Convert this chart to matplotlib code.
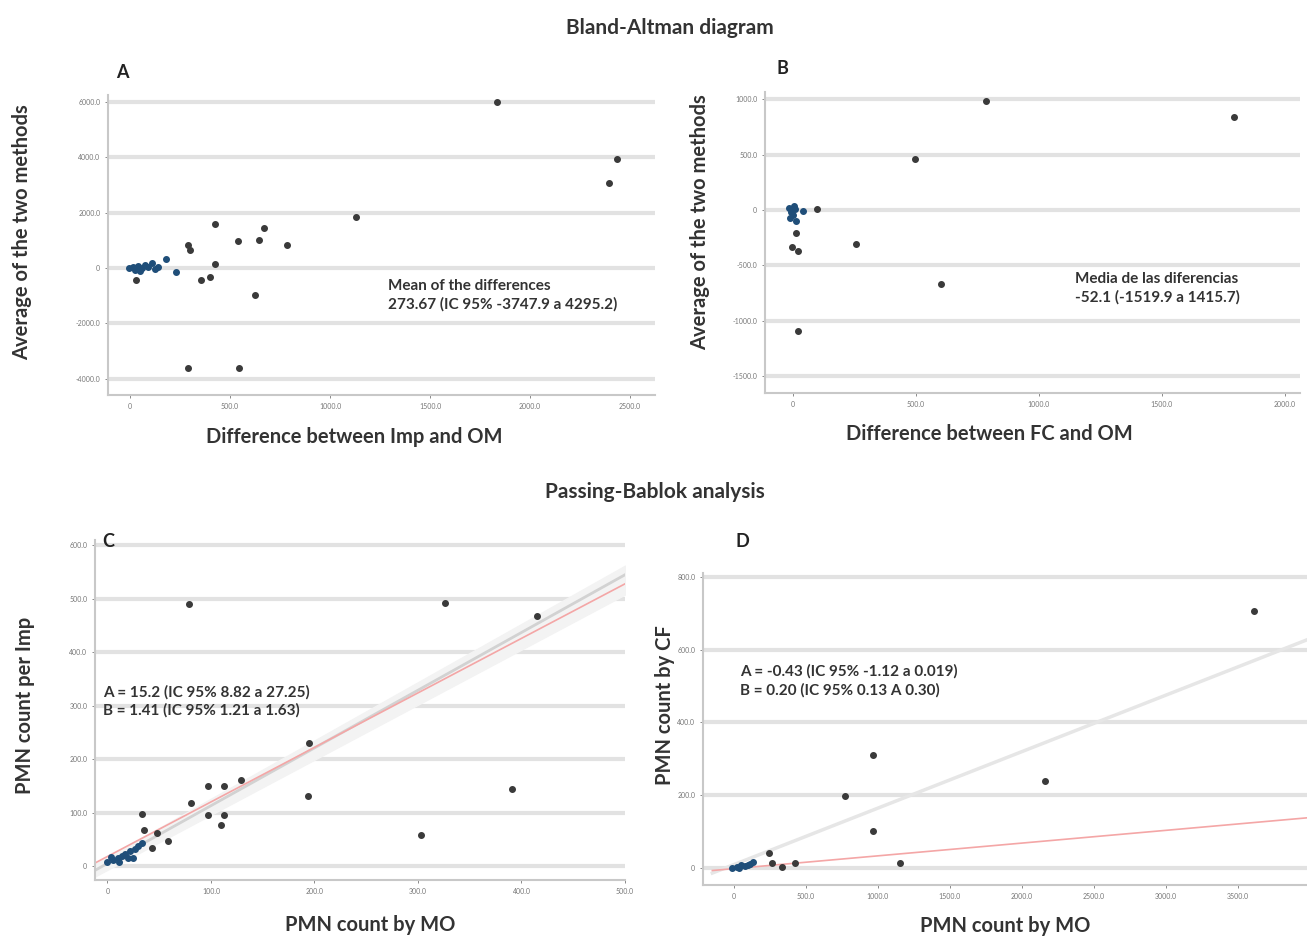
import numpy as np
import matplotlib
matplotlib.use("Agg")
import matplotlib.pyplot as plt

plt.rcParams['font.family'] = ['Lato', 'DejaVu Sans']

# ---- Panel A: Bland-Altman, Imp vs OM
a_x = [1835, 2433, 2395, 1130, 425, 670, 540, 645, 787, 290, 300, 425, 355, 400, 625, 290, 545, 30]
a_y = [6000, 3950, 3070, 1840, 1590, 1440, 970, 1010, 830, 830, 650, 144, -433, -325, -975, -3610, -3610, -433]
a_blue_x = [-5, 15, 40, 60, 75, 90, 110, 125, 140, 25, 50, 180, 230]
a_blue_y = [0, 36, 72, 0, 108, 36, 180, -36, 36, -72, -108, 325, -144]
a_yticks = [-4000, -2000, 0, 2000, 4000, 6000]
a_xticks = [0, 500, 1000, 1500, 2000, 2500]

# ---- Panel B: Bland-Altman, FC vs OM
b_x = [785, 1795, 497, 256, 602, 20, 98, 12, -4, 20]
b_y = [985, 840, 460, -307, -668, -1093, 9, -208, -334, -370]
b_blue_x = [-16, -8, 0, 8, -12, 12, 4, 40]
b_blue_y = [18, -18, -45, 9, -72, -99, 36, -9]
b_yticks = [-1500, -1000, -500, 0, 500, 1000]
b_xticks = [0, 500, 1000, 1500, 2000]

# ---- Panel C: Passing-Bablok, Imp vs MO
c_x = [79, 326, 415, 195, 194, 391, 303, 129, 113, 97, 81, 97, 113, 110, 33, 35, 48, 59, 43]
c_y = [490, 492, 468, 230, 131, 144, 58, 161, 150, 150, 118, 95, 95, 77, 97, 67, 62, 47, 34]
c_blue_x = [0, 5, 10, 14, 17, 22, 27, 30, 3, 11, 20, 33, 25]
c_blue_y = [7, 11, 15, 19, 22, 28, 32, 37, 17, 7, 15, 43, 15]
c_yticks = [0, 100, 200, 300, 400, 500, 600]
c_xticks = [0, 100, 200, 300, 400, 500]
c_fit = (18, 1.02)      # red regression line (intercept, slope)
c_ref = (5, 1.08)       # grey line
c_xline = [-35, 500]

# ---- Panel D: Passing-Bablok, CF vs MO
d_x = [3611, 965, 771, 2160, 965, 1153, 243, 264, 333, 424]
d_y = [705, 312, 198, 239, 103, 14, 43, 14, 3, 14]
d_blue_x = [-14, 20, 50, 80, 110, 132, 35, 95]
d_blue_y = [0, 4, 8, 6, 12, 16, 2, 10]
d_yticks = [0, 200, 400, 600, 800]
d_xticks = [0, 500, 1000, 1500, 2000, 2500, 3000, 3500]
d_fit = (-1, 0.035)
d_ref = (10, 0.155)
d_xline = [-150, 3979]

W, H = 1307, 938
fig = plt.figure(figsize=(W / 100, H / 100), dpi=100)


def px_axes(l, t, r, b):
    return fig.add_axes([l / W, 1 - b / H, (r - l) / W, (b - t) / H])


def fmt(v):
    return "0" if v == 0 else "%.1f" % v


def style(ax, xticks, yticks, xlim, ylim):
    ax.set_xlim(*xlim)
    ax.set_ylim(*ylim)
    ax.set_xticks(xticks)
    ax.set_yticks(yticks)
    ax.set_xticklabels([fmt(v) for v in xticks])
    ax.set_yticklabels([fmt(v) for v in yticks])
    ax.tick_params(labelsize=5, colors="#777777", length=2, width=0.6)
    for s in ["top", "right"]:
        ax.spines[s].set_visible(False)
    for s in ["left", "bottom"]:
        ax.spines[s].set_color("#c8c8c8")
        ax.spines[s].set_linewidth(1.5)
    ax.yaxis.grid(True, color="#e2e2e2", linewidth=3)
    ax.set_axisbelow(True)


def dots(ax, x, y, bx, by):
    ax.scatter(x, y, s=16, color="#3a3a3a", zorder=3)
    ax.scatter(bx, by, s=16, color="#1f4e79", zorder=3)


def labels(ax, xl, yl, xpos, ypos):
    ax.set_xlabel(xl, **lab)
    ax.set_ylabel(yl, **lab)
    ax.xaxis.set_label_coords(*xpos)
    ax.yaxis.set_label_coords(*ypos)
    ax.xaxis.label.set_va("center")
    ax.yaxis.label.set_va("center")


lab = dict(fontsize=14.5, fontweight="bold", color="#333333")
note = dict(fontsize=11, fontweight="bold", color="#333333", linespacing=1.35)

# A
axA = px_axes(108, 95, 655, 395)
style(axA, a_xticks, a_yticks, (-110, 2625), (-4585, 6245))
dots(axA, a_x, a_y, a_blue_x, a_blue_y)
labels(axA, "Difference between Imp and OM", "Average of the two methods",
       (0.45, -0.14), (-0.157, 0.543))
axA.text(0.512, 0.333, "Mean of the differences\n273.67 (IC 95% -3747.9 a 4295.2)",
         transform=axA.transAxes, va="center", **note)

# B
axB = px_axes(765, 92, 1300, 393)
style(axB, b_xticks, b_yticks, (-114, 2063), (-1652, 1065))
dots(axB, b_x, b_y, b_blue_x, b_blue_y)
labels(axB, "Difference between FC and OM", "Average of the two methods",
       (0.42, -0.136), (-0.121, 0.568))
axB.text(0.579, 0.349, "Media de las diferencias\n-52.1 (-1519.9 a 1415.7)",
         transform=axB.transAxes, va="center", **note)

# C
axC = px_axes(95, 540, 625, 880)
style(axC, c_xticks, c_yticks, (-12, 500), (-26, 610))
xl = np.array(c_xline)
axC.fill_between(xl, c_ref[0] - 12 + (c_ref[1] - 0.05) * xl, c_ref[0] + 12 + (c_ref[1] + 0.01) * xl,
                 color="#f3f3f3", zorder=1)
axC.plot(xl, c_ref[0] + c_ref[1] * xl, color="#d2d2d2", linewidth=2, zorder=2)
axC.plot(xl, c_fit[0] + c_fit[1] * xl, color="#f4a6a6", linewidth=1.2, zorder=2)
dots(axC, c_x, c_y, c_blue_x, c_blue_y)
labels(axC, "PMN count by MO", "PMN count per Imp", (0.519, -0.132), (-0.132, 0.515))
axC.text(0.016, 0.526, "A = 15.2 (IC 95% 8.82 a 27.25)\nB = 1.41 (IC 95% 1.21 a 1.63)",
         transform=axC.transAxes, va="center", **note)

# D
axD = px_axes(703, 573, 1307, 885)
style(axD, d_xticks, d_yticks, (-215, 3979), (-46, 810))
xl = np.array(d_xline)
axD.plot(xl, d_ref[0] + d_ref[1] * xl, color="#e6e6e6", linewidth=2.5, zorder=2)
axD.plot(xl, d_fit[0] + d_fit[1] * xl, color="#f4a6a6", linewidth=1.2, zorder=2)
dots(axD, d_x, d_y, d_blue_x, d_blue_y)
labels(axD, "PMN count by MO", "PMN count by CF", (0.5, -0.13), (-0.063, 0.577))
axD.text(0.061, 0.654, "A = -0.43 (IC 95% -1.12 a 0.019)\nB = 0.20 (IC 95% 0.13 A 0.30)",
         transform=axD.transAxes, va="center", **note)

# titles and panel letters
tit = dict(fontsize=15, fontweight="bold", color="#333333", ha="center", va="center")
fig.text(670 / W, 1 - 28 / H, "Bland-Altman diagram", **tit)
fig.text(655 / W, 1 - 492 / H, "Passing-Bablok analysis", **tit)
let = dict(fontsize=13, fontweight="bold", color="#222222", ha="center", va="center")
fig.text(122 / W, 1 - 72 / H, "A", **let)
fig.text(782 / W, 1 - 68 / H, "B", **let)
fig.text(108 / W, 1 - 541 / H, "C", **let)
fig.text(742 / W, 1 - 541 / H, "D", **let)

fig.savefig("out.png", dpi=100)
